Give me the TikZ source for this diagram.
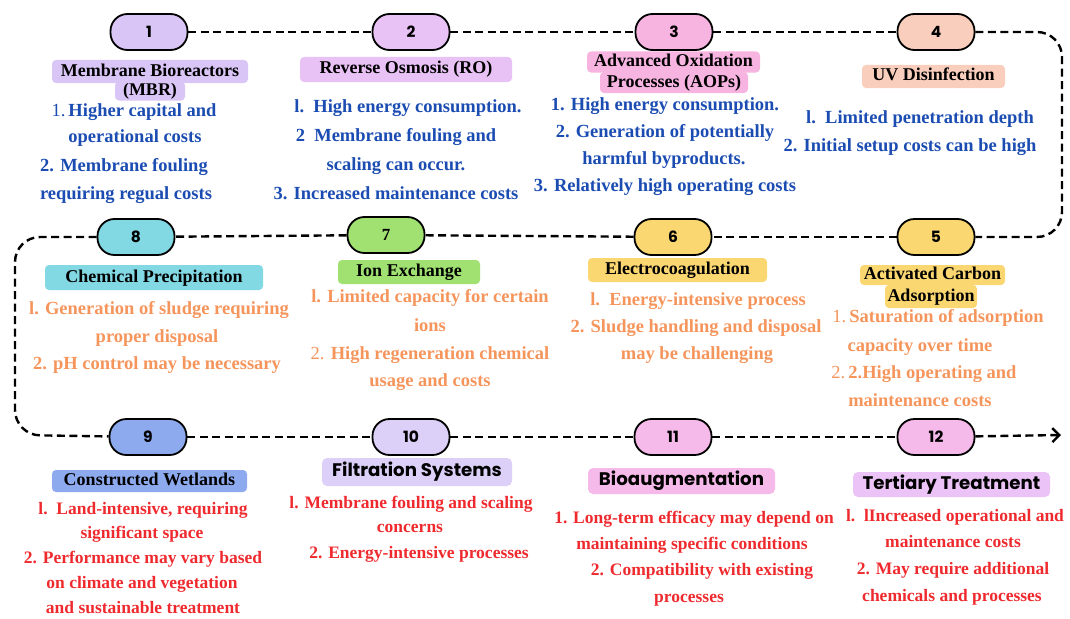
\documentclass[tikz,border=0pt]{standalone}
\usepackage{fontspec}
\setmainfont{Liberation Serif}
\newfontfamily\pop{Poppins}
\usetikzlibrary{arrows.meta}
\definecolor{tblue}{HTML}{1B4CB2}
\definecolor{torange}{HTML}{F5955C}
\definecolor{tred}{HTML}{EF2A2E}
\definecolor{cA}{HTML}{DAC6F6}
\definecolor{cB}{HTML}{E9C2F5}
\definecolor{cC}{HTML}{F7B4E1}
\definecolor{cD}{HTML}{F9CEBC}
\definecolor{cH}{HTML}{82D8E3}
\definecolor{cG}{HTML}{A0E172}
\definecolor{cF}{HTML}{FAD771}
\definecolor{cI}{HTML}{8EAAEF}
\definecolor{cJ}{HTML}{DDD0F8}
\definecolor{cK}{HTML}{F6BAEA}
\definecolor{cL}{HTML}{EBC3F7}
\begin{document}
\begin{tikzpicture}[x=1pt,y=-1pt,
 pill/.style={draw=black, line width=1.8pt, rounded corners=17pt, minimum width=77pt, minimum height=36pt, inner sep=0pt, font=\pop\bfseries\fontsize{15.5}{15.5}\selectfont},
 flow/.style={draw=black, line width=2.4pt, dash pattern=on 8pt off 4.5pt, rounded corners=25pt},
 ttl/.style={rounded corners=4pt, inner sep=0pt, font=\bfseries\fontsize{18}{18}\selectfont, text height=13pt, text depth=4pt},
 pttl/.style={rounded corners=5pt, inner sep=0pt, font=\pop\bfseries\fontsize{18.2}{18.2}\selectfont, text height=13pt, text depth=4pt},
 tx/.style={inner sep=0pt, text height=13pt, text depth=4pt, font=\bfseries\fontsize{18.5}{18.5}\selectfont},
 blue/.style={tx, text=tblue},
 orng/.style={tx, text=torange},
 redt/.style={tx, text=tred, font=\bfseries\fontsize{17.5}{17.5}\selectfont},
]
\useasboundingbox (0,0) rectangle (1070,618);
% pills
\node[pill, fill=cA] (p1) at (149,32) {1};
\node[pill, fill=cB] (p2) at (411,32) {2};
\node[pill, fill=cC] (p3) at (674,32) {3};
\node[pill, fill=cD] (p4) at (936,32) {4};
\node[pill, fill=cF] (p5) at (936,237) {5};
\node[pill, fill=cF] (p6) at (673,237) {6};
\node[pill, fill=cG, font=\bfseries\fontsize{17}{17}\selectfont] (p7) at (386,235) {7};
\node[pill, fill=cH] (p8) at (136,237) {8};
\node[pill, fill=cI] (p9) at (148,437) {9};
\node[pill, fill=cJ] (p10) at (411,437) {10};
\node[pill, fill=cK] (p11) at (673,437) {11};
\node[pill, fill=cK] (p12) at (936,437) {12};
\coordinate (c1) at (1062,32);
\coordinate (c2) at (1062,237);
\coordinate (c3) at (15,237);
\coordinate (c4) at (15,435);
\coordinate (aend) at (1061,435);
% connectors
\draw[flow] (p1) -- (p2);
\draw[flow] (p2) -- (p3);
\draw[flow] (p3) -- (p4);
\draw[flow] (p4) -- (c1) -- (c2) -- (p5);
\draw[flow] (p5) -- (p6);
\draw[flow] (p6) -- (p7);
\draw[flow] (p7) -- (p8);
\draw[flow] (p8) -- (c3) -- (c4) -- (p9);
\draw[flow] (p9) -- (p10);
\draw[flow] (p10) -- (p11);
\draw[flow] (p11) -- (p12);
\draw[flow, -{Straight Barb[length=7pt,width=14pt,line width=2.4pt]}] (p12) -- (aend);
% titles
\node[ttl, fill=cA, minimum width=70pt, minimum height=19pt] (h1b) at (150,91) {(MBR)};
\node[ttl, fill=cA, minimum width=196pt, minimum height=23pt] (h1a) at (150,71.5) {Membrane Bioreactors};
\node[ttl, fill=cB, minimum width=212pt, minimum height=25pt] (h2) at (406,69.5) {Reverse Osmosis (RO)};
\node[ttl, fill=cC, minimum width=148pt, minimum height=21pt] (h3b) at (674,82.5) {Processes (AOPs)};
\node[ttl, fill=cC, minimum width=173pt, minimum height=21pt] (h3a) at (673.5,62) {Advanced Oxidation};
\node[ttl, fill=cD, minimum width=143pt, minimum height=23pt] (h4) at (933.5,76.5) {UV Disinfection};
\node[ttl, fill=cH, minimum width=218pt, minimum height=25pt] (h8) at (154,277.5) {Chemical Precipitation};
\node[ttl, fill=cG, minimum width=142pt, minimum height=24pt] (h7) at (409,272) {Ion Exchange};
\node[ttl, fill=cF, minimum width=179pt, minimum height=24pt] (h6) at (677.5,270) {Electrocoagulation};
\node[ttl, fill=cF, minimum width=92pt, minimum height=23pt] (h5b) at (931,296.5) {Adsorption};
\node[ttl, fill=cF, minimum width=145pt, minimum height=20pt] (h5a) at (932.5,275) {Activated Carbon};
\node[ttl, fill=cI, minimum width=195pt, minimum height=22pt] (h9) at (149.5,481) {Constructed Wetlands};
\node[pttl, fill=cJ, minimum width=190pt, minimum height=28pt] (h10) at (417,472) {Filtration Systems};
\node[pttl, fill=cK, minimum width=187pt, minimum height=26pt] (h11) at (681.5,481) {Bioaugmentation};
\node[pttl, fill=cL, minimum width=197pt, minimum height=25pt] (h12) at (951.5,484.5) {Tertiary Treatment};
% row 1 texts
\node[blue] (t1a) at (134,112) {\textmd{1.}\,Higher capital and};
\node[blue] (t1b) at (135,138) {operational costs};
\node[blue] (t1c) at (124,167) {2. Membrane fouling};
\node[blue] (t1d) at (126,195) {requiring regual costs};
\node[blue] (t2a) at (408,108) {l.\ \ High energy consumption.};
\node[blue] (t2b) at (396,137) {2\ \ Membrane fouling and};
\node[blue] (t2c) at (396,166) {scaling can occur.};
\node[blue] (t2d) at (396,195) {3. Increased maintenance costs};
\node[blue] (t3a) at (665,106) {1. High energy consumption.};
\node[blue] (t3b) at (665,133) {2. Generation of potentially};
\node[blue] (t3c) at (664,160) {harmful byproducts.};
\node[blue] (t3d) at (665,187) {3. Relatively high operating costs};
\node[blue] (t4a) at (920,119) {l.\ \ Limited penetration depth};
\node[blue] (t4b) at (910,147) {2. Initial setup costs can be high};
% row 2 texts
\node[orng] (t8a) at (159,310) {l. Generation of sludge requiring};
\node[orng] (t8b) at (157,338) {proper disposal};
\node[orng] (t8c) at (157,365) {2. pH control may be necessary};
\node[orng] (t7a) at (430,298) {l. Limited capacity for certain};
\node[orng] (t7b) at (430,327) {ions};
\node[orng] (t7c) at (430,355) {\textmd{2.} High regeneration chemical};
\node[orng] (t7d) at (430,382) {usage and costs};
\node[orng] (t6a) at (698,301) {l.\ \ Energy-intensive process};
\node[orng] (t6b) at (696,328) {2. Sludge handling and disposal};
\node[orng] (t6c) at (697,355) {may be challenging};
\node[orng] (t5a) at (938,318) {\textmd{1.}\,Saturation of adsorption};
\node[orng] (t5b) at (920,347) {capacity over time};
\node[orng] (t5c) at (924,374) {\textmd{2.}\,2.High operating and};
\node[orng] (t5d) at (920,402) {maintenance costs};
% row 3 texts
\node[redt] (t9a) at (143,510) {l.\ \ Land-intensive, requiring};
\node[redt] (t9b) at (142,534) {significant space};
\node[redt] (t9c) at (143,559) {2. Performance may vary based};
\node[redt] (t9d) at (142,584) {on climate and vegetation};
\node[redt] (t9e) at (143,609) {and sustainable treatment};
\node[redt] (t10a) at (411,504) {l. Membrane fouling and scaling};
\node[redt] (t10b) at (410,528) {concerns};
\node[redt] (t10c) at (419,554) {2. Energy-intensive processes};
\node[redt] (t11a) at (694,519) {1. Long-term efficacy may depend on};
\node[redt] (t11b) at (692,545) {maintaining specific conditions};
\node[redt] (t11c) at (702,571) {2. Compatibility with existing};
\node[redt] (t11d) at (689,598) {processes};
\node[redt] (t12a) at (955,517) {l.\ \ lIncreased operational and};
\node[redt] (t12b) at (953,543) {maintenance costs};
\node[redt] (t12c) at (953,570) {2. May require additional};
\node[redt] (t12d) at (952,597) {chemicals and processes};
\end{tikzpicture}
\end{document}
